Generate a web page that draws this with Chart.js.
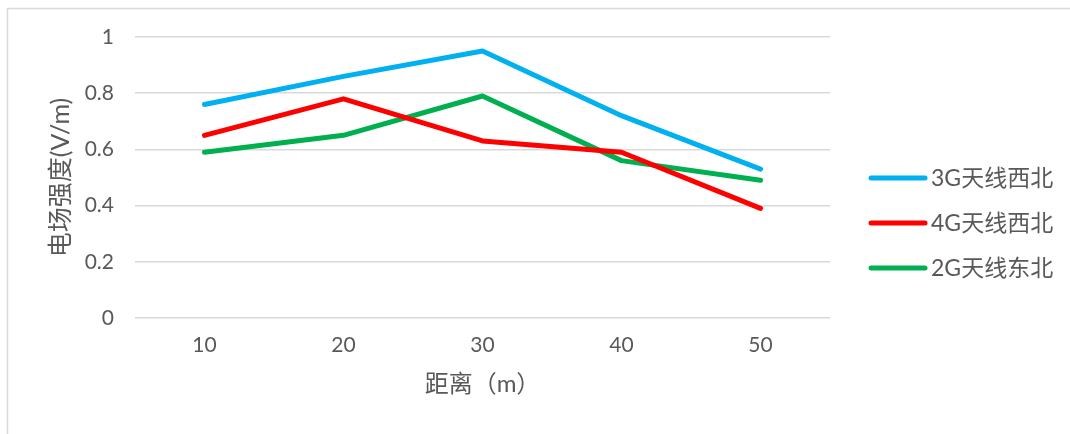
<!DOCTYPE html>
<html>
<head>
<meta charset="utf-8">
<script src="https://cdn.jsdelivr.net/npm/chart.js@4/dist/chart.umd.min.js"></script>
<style>
  html, body { margin: 0; padding: 0; background: #ffffff; }
  #wrap { width: 1070px; height: 434px; position: relative; }
</style>
</head>
<body>
<div id="wrap"><canvas id="c" width="1070" height="434"></canvas></div>
<script>
// Distance categories (m) and field strength readings (V/m)
const distances = ['10', '20', '30', '40', '50'];
const field3GNorthwest = [0.76, 0.86, 0.95, 0.72, 0.53];
const field4GNorthwest = [0.65, 0.78, 0.63, 0.59, 0.39];
const field2GNortheast = [0.59, 0.65, 0.79, 0.56, 0.49];
const seriesNames = ['3G天线西北', '4G天线西北', '2G天线东北'];
const seriesColors = ['#00B0F0', '#FF0000', '#00B050'];

const FONT = "Lato, 'Noto Sans CJK SC', sans-serif";
const TEXT = '#595959';

// Thin frame around the chart (top and left edges fall inside the canvas)
const framePlugin = {
  id: 'frame',
  beforeDraw(chart) {
    const ctx = chart.ctx;
    ctx.save();
    ctx.strokeStyle = '#D9D9D9';
    ctx.lineWidth = 1.5;
    ctx.beginPath();
    ctx.moveTo(7.5, chart.height + 2);
    ctx.lineTo(7.5, 8.5);
    ctx.lineTo(chart.width + 2, 8.5);
    ctx.stroke();
    ctx.restore();
  }
};

// Legend drawn on the right, stacked vertically
const sideLegend = {
  id: 'sideLegend',
  afterDraw(chart) {
    const ctx = chart.ctx;
    ctx.save();
    chart.data.datasets.forEach((ds, i) => {
      const y = 178 + i * 45;
      ctx.strokeStyle = ds.borderColor;
      ctx.lineWidth = 5;
      ctx.lineCap = 'round';
      ctx.beginPath();
      ctx.moveTo(871, y);
      ctx.lineTo(925, y);
      ctx.stroke();
      ctx.fillStyle = TEXT;
      ctx.font = '23px ' + FONT;
      ctx.textBaseline = 'middle';
      ctx.textAlign = 'left';
      ctx.fillText(ds.label, 931, y + 1);
    });
    ctx.restore();
  }
};

const seriesValues = [field3GNorthwest, field4GNorthwest, field2GNortheast];

new Chart(document.getElementById('c'), {
  type: 'line',
  data: {
    labels: distances,
    datasets: seriesValues.map((vals, i) => ({
      label: seriesNames[i],
      data: vals,
      borderColor: seriesColors[i],
      backgroundColor: seriesColors[i],
      borderWidth: 5,
      borderCapStyle: 'round',
      borderJoinStyle: 'round',
      pointRadius: 0,
      pointHoverRadius: 0,
      tension: 0,
      fill: false
    }))
  },
  options: {
    responsive: false,
    animation: false,
    events: [],
    layout: { padding: { left: 0, top: 37, right: 240, bottom: 0 } },
    plugins: {
      legend: { display: false },
      tooltip: { enabled: false }
    },
    scales: {
      x: {
        type: 'category',
        offset: true,
        grid: { display: false, drawTicks: false },
        border: { display: false },
        ticks: { color: TEXT, font: { family: FONT, size: 21 }, padding: 15, maxRotation: 0 },
        title: {
          display: true,
          text: '距离（m）',
          color: TEXT,
          font: { family: FONT, size: 24 },
          padding: { top: 0, bottom: 35 }
        },
        afterFit(scale) { scale.height = 116; }
      },
      y: {
        min: 0,
        max: 1,
        ticks: {
          stepSize: 0.2,
          color: TEXT,
          font: { family: FONT, size: 21 },
          padding: 21,
          callback: (v) => String(Math.round(v * 10) / 10)
        },
        grid: { color: '#D9D9D9', lineWidth: 1.5, drawTicks: false },
        border: { display: false },
        title: {
          display: true,
          text: '电场强度(V/m)',
          color: TEXT,
          font: { family: FONT, size: 25 },
          padding: { top: 46, bottom: 0 }
        },
        afterFit(scale) { scale.width = 135; }
      }
    }
  },
  plugins: [framePlugin, sideLegend]
});
</script>
</body>
</html>
